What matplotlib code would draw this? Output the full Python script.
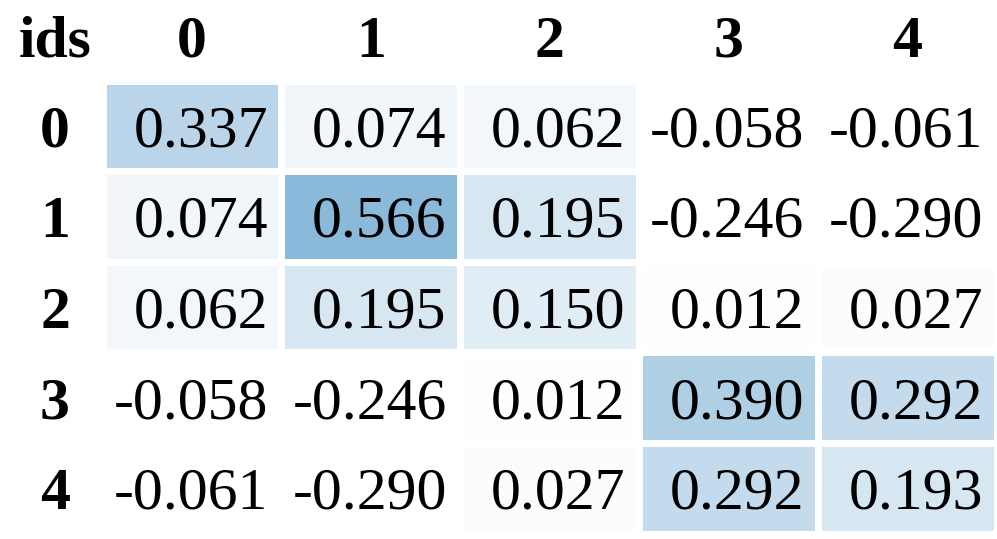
import matplotlib.pyplot as plt
import numpy as np
from matplotlib.colors import LinearSegmentedColormap, Normalize

plt.rcParams['font.family'] = ['Liberation Serif', 'DejaVu Serif']

ids = ['0', '1', '2', '3', '4']
corr = np.array([
    [0.337, 0.074, 0.062, -0.058, -0.061],
    [0.074, 0.566, 0.195, -0.246, -0.290],
    [0.062, 0.195, 0.150, 0.012, 0.027],
    [-0.058, -0.246, 0.012, 0.390, 0.292],
    [-0.061, -0.290, 0.027, 0.292, 0.193],
])

W, H = 997, 539
fig = plt.figure(figsize=(W / 100, H / 100), dpi=100)

# cell area in pixels (includes half of the white gap on each side)
x0, x1 = 102.5, 996.5
y0, y1 = 80.5, 533.5
ax = fig.add_axes([x0 / W, 1 - y1 / H, (x1 - x0) / W, (y1 - y0) / H])

cmap = LinearSegmentedColormap.from_list('wb', ['#ffffff', '#8bb9da'])
cmap.set_under('#ffffff')
norm = Normalize(vmin=0.0, vmax=corr.max())

ax.pcolormesh(corr, cmap=cmap, norm=norm, edgecolors='white', linewidth=5.0)
ax.set_xlim(0, len(ids))
ax.set_ylim(len(ids), 0)
ax.axis('off')

fs = 43
for i in range(len(ids)):
    for j in range(len(ids)):
        ax.text(j + 0.925, i + 0.5, '%.3f' % corr[i, j], ha='right',
                va='center_baseline', fontsize=fs, color='black')

lab_x = -0.266
for k, name in enumerate(ids):
    ax.text(k + 0.5, -0.49, name, ha='center', va='center_baseline',
            fontsize=fs, fontweight='bold', clip_on=False)
    ax.text(lab_x, k + 0.5, name, ha='center', va='center_baseline',
            fontsize=fs, fontweight='bold', clip_on=False)
ax.text(lab_x, -0.49, 'ids', ha='center', va='center_baseline',
        fontsize=fs, fontweight='bold', clip_on=False)

fig.savefig('out.png', dpi=100)
